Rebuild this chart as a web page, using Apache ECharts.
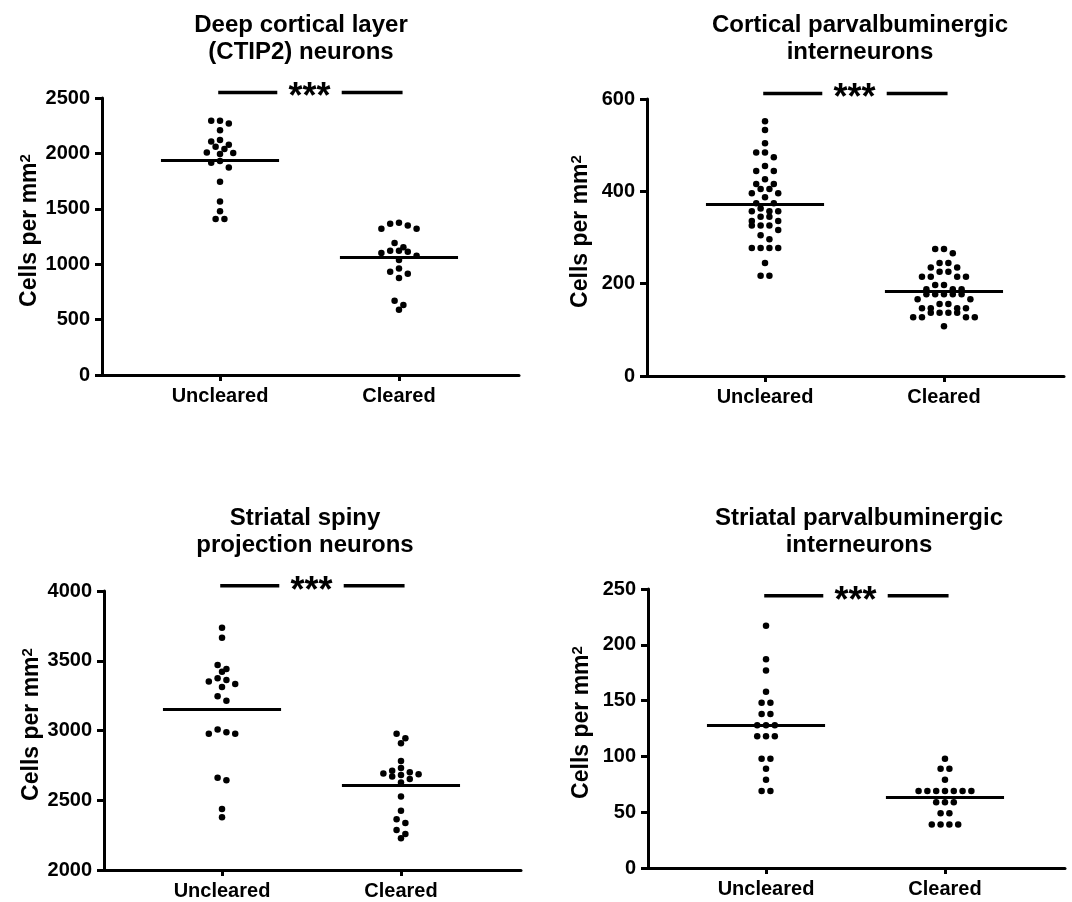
<!DOCTYPE html>
<html><head><meta charset="utf-8">
<script src="https://cdn.jsdelivr.net/npm/echarts@6/dist/echarts.min.js"></script>
<style>html,body{margin:0;padding:0;background:#fff}#c{width:1072px;height:902px}</style>
</head><body><div id="c"></div>
<script>
// ---------- data ----------
const categories = ['Uncleared', 'Cleared'];
const titles = [
  'Deep cortical layer\n(CTIP2) neurons',
  'Cortical parvalbuminergic\ninterneurons',
  'Striatal spiny\nprojection neurons',
  'Striatal parvalbuminergic\ninterneurons'
];
const yAxisName = 'Cells per mm';
const p1Uncleared = [2294,2294,2270,2210,2108,2120,2078,2060,2039,2009,1994,2003,1915,1931,1873,1744,1567,1477,1407,1407];
const p1Cleared   = [1374,1350,1320,1320,1365,1191,1122,1113,1152,1122,1101,1077,1038,932,962,914,875,671,632,590];
const p2Uncleared = [552,533,504,484,484,474,455,444,444,426,416,416,405,405,396,396,387,374,374,363,357,357,357,345,345,336,336,326,326,326,316,305,296,277,277,277,277,245,217,217];
const p2Cleared   = [275,275,266,245,245,235,235,226,226,215,215,215,215,197,197,188,188,188,177,177,177,177,177,166,166,156,156,147,147,147,147,137,137,137,137,127,127,127,127,108];
const p3Uncleared = [3737,3665,3470,3441,3422,3374,3362,3352,3333,3312,3245,3214,2987,2977,2977,3008,2662,2643,2437,2378];
const p3Cleared   = [2977,2944,2908,2781,2731,2712,2700,2681,2671,2686,2691,2652,2628,2526,2425,2363,2337,2287,2258,2227];
const p4Uncleared = [217,187,177,158,148,148,138,138,128,128,128,118,118,118,98,98,89,79,69,69];
const p4Cleared   = [98,89,89,79,69,69,69,69,69,69,69,59,59,59,49,49,39,39,39,39];
const yMins = [0, 0, 2000, 0];
const yMaxs = [2500, 600, 4000, 250];
const yIntervals = [500, 200, 500, 50];
const sigLevels = [2550, 612, 4038, 244];
const sigText = '***';

// ---------- layout ----------
const FONT = '"Liberation Sans", Arial, sans-serif';
const grids = [
  {left: 102, top: 98, width: 417, height: 277},
  {left: 647, top: 99, width: 417, height: 277},
  {left: 104, top: 591, width: 417, height: 279},
  {left: 648, top: 589, width: 417, height: 279}
];
const titlePos = [[296, 7], [855, 7], [300, 500], [854, 500]];
const groupsByPanel = [[p1Uncleared, p1Cleared], [p2Uncleared, p2Cleared], [p3Uncleared, p3Cleared], [p4Uncleared, p4Cleared]];
const X_MIN = 0.3406, X_MAX = 2.6706;
const DOT = 6.5, SPACING = 8.8, ROW_PX = 6.5;

function swarm(values, pxPerUnit) {
  const idx = values.map((v, i) => i).sort((a, b) => values[b] - values[a]);
  const off = new Array(values.length).fill(0);
  let row = [];
  const flush = () => {
    const n = row.length, pos = [];
    for (let k = 0; k < n; k++) pos.push((k - (n - 1) / 2) * SPACING);
    pos.sort((a, b) => Math.abs(a) - Math.abs(b) || a - b);
    row.forEach((i, j) => off[i] = pos[j]);
    row = [];
  };
  idx.forEach(i => {
    if (row.length && (values[row[0]] - values[i]) * pxPerUnit > ROW_PX) flush();
    row.push(i);
  });
  flush();
  return off;
}
const mean = a => a.reduce((s, v) => s + v, 0) / a.length;

const option = {
  animation: false,
  backgroundColor: '#fff',
  title: titles.map((t, i) => ({
    text: t, left: titlePos[i][0], top: titlePos[i][1], textAlign: 'center',
    textStyle: {fontSize: 24, fontWeight: 'bold', color: '#000', fontFamily: FONT, lineHeight: 27}
  })),
  grid: grids.map(g => Object.assign({containLabel: false}, g)),
  xAxis: grids.map((g, i) => ({
    type: 'value', gridIndex: i, min: X_MIN, max: X_MAX,
    axisLine: {show: true, lineStyle: {color: '#000', width: 3}},
    axisTick: {show: true, customValues: [1, 2], length: 6, lineStyle: {color: '#000', width: 3}},
    axisLabel: {show: true, customValues: [1, 2], formatter: v => categories[Math.round(v) - 1] || '',
      fontSize: 20, fontWeight: 'bold', color: '#000', fontFamily: FONT, margin: 11},
    splitLine: {show: false}
  })),
  yAxis: grids.map((g, i) => ({
    type: 'value', gridIndex: i, min: yMins[i], max: yMaxs[i], interval: yIntervals[i],
    name: '{a|' + yAxisName + '}{b|2}', nameLocation: 'middle', nameGap: 55, nameRotate: 90,
    nameTextStyle: {color: '#000', fontFamily: FONT, fontWeight: 'bold', fontSize: 23, padding: [0, 0, 0, 12],
      rich: {a: {fontSize: 23, fontWeight: 'bold', fontFamily: FONT, color: '#000'},
             b: {fontSize: 15, fontWeight: 'bold', fontFamily: FONT, color: '#000', verticalAlign: 'top'}}},
    axisLine: {show: true, lineStyle: {color: '#000', width: 3}},
    axisTick: {show: true, length: 7, lineStyle: {color: '#000', width: 3}},
    axisLabel: {fontSize: 20, fontWeight: 'bold', color: '#000', fontFamily: FONT, margin: 12,
      formatter: v => String(v)},
    splitLine: {show: false}
  })),
  series: []
};

groupsByPanel.forEach((groups, p) => {
  const pxPerUnit = grids[p].height / (yMaxs[p] - yMins[p]);
  groups.forEach((vals, gi) => {
    const c = gi + 1;
    const off = swarm(vals, pxPerUnit);
    const m = mean(vals);
    option.series.push({
      type: 'scatter', xAxisIndex: p, yAxisIndex: p,
      symbol: 'circle', symbolSize: DOT, itemStyle: {color: '#000', opacity: 1},
      data: vals.map((v, i) => ({value: [c, v], symbolOffset: [off[i], 0]})),
      markLine: {
        silent: true, symbol: ['none', 'none'], label: {show: false},
        lineStyle: {color: '#000', width: 3, type: 'solid', opacity: 1},
        data: [[{coord: [c - 0.33, m]}, {coord: [c + 0.33, m]}]]
      }
    });
  });
  option.series.push({
    type: 'custom', xAxisIndex: p, yAxisIndex: p, silent: true, clip: false,
    data: [[1.5, sigLevels[p]]],
    encode: {x: 0, y: 1},
    renderItem: (params, api) => {
      const y = api.value(1);
      const a = api.coord([0.99, y]), b = api.coord([1.32, y]);
      const cpt = api.coord([1.68, y]), d = api.coord([2.02, y]);
      const mid = api.coord([1.5, y]);
      return {type: 'group', children: [
        {type: 'line', shape: {x1: a[0], y1: a[1], x2: b[0], y2: b[1]}, style: {stroke: '#000', lineWidth: 3.5}},
        {type: 'line', shape: {x1: cpt[0], y1: cpt[1], x2: d[0], y2: d[1]}, style: {stroke: '#000', lineWidth: 3.5}},
        {type: 'text', x: mid[0], y: mid[1] + 6, style: {text: sigText, font: 'bold 36px ' + FONT, fill: '#000', align: 'center', verticalAlign: 'middle'}}
      ]};
    }
  });
});

const chart = echarts.init(document.getElementById('c'), null, {renderer: 'canvas'});
chart.setOption(option);
</script></body></html>
